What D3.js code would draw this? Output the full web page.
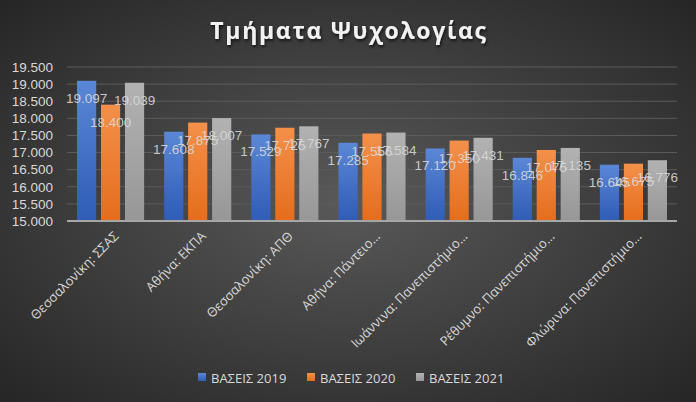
<!DOCTYPE html>
<html>
<head>
<meta charset="utf-8">
<script src="https://cdn.jsdelivr.net/npm/d3@7"></script>
<style>
  html, body { margin: 0; padding: 0; background: #333; }
  svg { display: block; }
</style>
</head>
<body>
<div id="chart"></div>
<script>
'use strict';

var categories = ['Θεσσαλονίκη: ΣΣΑΣ', 'Αθήνα: ΕΚΠΑ', 'Θεσσαλονίκη: ΑΠΘ', 'Αθήνα: Πάντειο…',
  'Ιωάννινα: Πανεπιστήμιο…', 'Ρέθυμνο: Πανεπιστήμιο…', 'Φλώρινα: Πανεπιστήμιο…'];
var seriesNames = ['ΒΑΣΕΙΣ 2019', 'ΒΑΣΕΙΣ 2020', 'ΒΑΣΕΙΣ 2021'];
var values2019 = [19097, 17608, 17529, 17285, 17120, 16846, 16645];
var values2020 = [18400, 17875, 17725, 17556, 17350, 17075, 16675];
var values2021 = [19039, 18007, 17767, 17584, 17431, 17135, 16776];
var yTicks = [15000, 15500, 16000, 16500, 17000, 17500, 18000, 18500, 19000, 19500];

var series = [values2019, values2020, values2021];
var colors = [['#5a87d6', '#2f5cb5'], ['#f4904a', '#e56d1c'], ['#b2b2b2', '#979797']];

var W = 696, H = 402
  , margin = { top: 67, right: 19, bottom: 181, left: 67 }
  , iw = W - margin.left - margin.right
  , ih = H - margin.top - margin.bottom;

var fmt = function (v) { return d3.format(',')(v).replace(/,/g, '.'); };

var svg = d3.select('#chart').append('svg')
  .attr('width', W)
  .attr('height', H);

var defs = svg.append('defs');
var bg = defs.append('radialGradient')
  .attr('id', 'bg')
  .attr('cx', '50%').attr('cy', '50%').attr('r', '70%');
bg.append('stop').attr('offset', '0%').attr('stop-color', '#595959');
bg.append('stop').attr('offset', '100%').attr('stop-color', '#262626');

colors.forEach(function (c, i) {
  var g = defs.append('linearGradient')
    .attr('id', 'bar' + i)
    .attr('x1', 0).attr('y1', 0).attr('x2', 0).attr('y2', 1);
  g.append('stop').attr('offset', '0%').attr('stop-color', c[0]);
  g.append('stop').attr('offset', '100%').attr('stop-color', c[1]);
});

var shadow = defs.append('filter').attr('id', 'ts')
  .attr('x', '-10%').attr('y', '-30%').attr('width', '120%').attr('height', '160%');
shadow.append('feDropShadow')
  .attr('dx', 1).attr('dy', 2).attr('stdDeviation', 1.5)
  .attr('flood-color', '#000').attr('flood-opacity', 0.7);

svg.append('rect')
  .attr('width', W).attr('height', H)
  .attr('fill', 'url(#bg)');

// title
svg.append('text')
  .attr('x', W / 2 + 1)
  .attr('y', 39)
  .attr('text-anchor', 'middle')
  .attr('filter', 'url(#ts)')
  .style('font-family', '"Open Sans", sans-serif')
  .style('font-size', '23px')
  .style('font-weight', 'bold')
  .style('letter-spacing', '1.7px')
  .style('fill', '#f2f2f2')
  .text('Τμήματα Ψυχολογίας');

var g = svg.append('g')
  .attr('transform', 'translate(' + margin.left + ',' + margin.top + ')');

var x0 = d3.scaleBand()
  .domain(categories)
  .range([0, iw])
  .paddingInner(0.23)
  .paddingOuter(0.115);

var x1 = d3.scaleBand()
  .domain(d3.range(series.length))
  .range([0, x0.bandwidth()])
  .paddingInner(0.2);

var y = d3.scaleLinear()
  .domain([15000, 19500])
  .range([ih, 0]);

// gridlines
g.append('g')
  .selectAll('line')
  .data(yTicks.slice(1))
  .enter().append('line')
    .attr('x1', 0).attr('x2', iw)
    .attr('y1', function (d) { return y(d); })
    .attr('y2', function (d) { return y(d); })
    .attr('stroke', '#5c5c5c')
    .attr('stroke-width', 1);

// y axis labels
var yAxis = g.append('g')
  .call(d3.axisLeft(y).tickValues(yTicks).tickFormat(fmt).tickSize(0).tickPadding(14));
yAxis.select('.domain').remove();
yAxis.selectAll('text')
  .style('font-family', '"Liberation Sans", Arial, sans-serif')
  .style('font-size', '13.5px')
  .style('fill', '#d9d9d9');

// bars
var groups = g.selectAll('g.cat')
  .data(categories)
  .enter().append('g')
    .attr('class', 'cat')
    .attr('transform', function (d) { return 'translate(' + x0(d) + ',0)'; });

groups.selectAll('rect')
  .data(function (d, ci) { return series.map(function (s, si) { return { s: si, v: s[ci] }; }); })
  .enter().append('rect')
    .attr('x', function (d) { return x1(d.s); })
    .attr('y', function (d) { return y(d.v); })
    .attr('width', x1.bandwidth())
    .attr('height', function (d) { return ih - y(d.v); })
    .attr('fill', function (d) { return 'url(#bar' + d.s + ')'; });

// data labels (inside end)
groups.selectAll('text')
  .data(function (d, ci) { return series.map(function (s, si) { return { s: si, v: s[ci] }; }); })
  .enter().append('text')
    .attr('x', function (d) { return x1(d.s) + x1.bandwidth() / 2; })
    .attr('y', function (d) { return y(d.v) + 22; })
    .attr('text-anchor', 'middle')
    .style('font-family', '"Liberation Sans", Arial, sans-serif')
    .style('font-size', '13.5px')
    .style('fill', '#d9d9d9')
    .style('fill-opacity', 0.9)
    .text(function (d) { return fmt(d.v); });

// baseline
g.append('line')
  .attr('x1', 0).attr('x2', iw)
  .attr('y1', ih).attr('y2', ih)
  .attr('stroke', '#a6a6a6')
  .attr('stroke-width', 2);

// category labels
g.append('g')
  .selectAll('text')
  .data(categories)
  .enter().append('text')
    .attr('transform', function (d) {
      return 'translate(' + (x0(d) + x0.bandwidth() / 2 + 9) + ',' + (ih + 16) + ') rotate(-45)';
    })
    .attr('text-anchor', 'end')
    .style('font-family', '"Open Sans", sans-serif')
    .style('font-size', '13px')
    .style('fill', '#d9d9d9')
    .text(function (d) { return d; });

// legend
var legendX = [198, 307, 416];
var legend = svg.append('g').attr('transform', 'translate(0,378)');
var items = legend.selectAll('g')
  .data(seriesNames)
  .enter().append('g')
    .attr('transform', function (d, i) { return 'translate(' + legendX[i] + ',0)'; });
items.append('rect')
  .attr('x', 0).attr('y', -5)
  .attr('width', 8).attr('height', 8)
  .attr('fill', function (d, i) { return 'url(#bar' + i + ')'; });
items.append('text')
  .attr('x', 13).attr('y', 4.5)
  .style('font-family', '"Open Sans", sans-serif')
  .style('font-size', '13px')
  .style('fill', '#d9d9d9')
  .text(function (d) { return d; });
</script>
</body>
</html>
